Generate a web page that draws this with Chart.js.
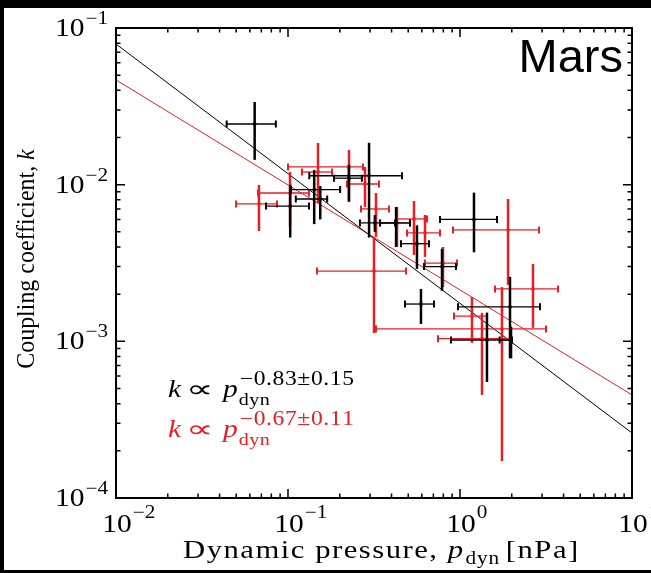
<!DOCTYPE html>
<html>
<head>
<meta charset="utf-8">
<script src="https://cdn.jsdelivr.net/npm/chart.js@4"></script>
<style>
  html, body { margin: 0; padding: 0; background: #fff; }
  canvas { display: block; }
</style>
</head>
<body>
<canvas id="chart" width="651" height="573"></canvas>
<script>
// fit lines (end points read at the plot edges)
const fitP = [0.01, 10];
const blackFitK = [0.079, 0.00026];
const redFitK = [0.0466, 0.000455];

// black points: p_dyn [nPa] with x range, k with y range
const blackP   = [0.064, 0.103, 0.142, 0.154, 0.296, 0.226, 0.425, 0.32, 0.562, 0.786, 1.206, 0.593, 1.953, 1.435, 1.98];
const blackPLo = [0.044, 0.0745, 0.104, 0.111, 0.133, 0.185, 0.343, 0.262, 0.454, 0.618, 0.765, 0.479, 0.974, 0.887, 1.7];
const blackPHi = [0.085, 0.1325, 0.201, 0.169, 0.46, 0.269, 0.512, 0.419, 0.66, 0.948, 1.641, 0.706, 2.918, 1.98, 2.006];
const blackK   = [0.0244, 0.0073, 0.0093, 0.0081, 0.0114, 0.011, 0.0057, 0.0057, 0.0042, 0.003, 0.006, 0.00173, 0.00166, 0.00102, 0.00102];
const blackKLo = [0.0144, 0.0046, 0.0056, 0.006, 0.0046, 0.0078, 0.004, 0.005, 0.0029, 0.0021, 0.0037, 0.00129, 0.00078, 0.00055, 0.00078];
const blackKHi = [0.0337, 0.01, 0.0124, 0.0098, 0.0185, 0.0134, 0.0072, 0.0064, 0.0055, 0.0039, 0.0089, 0.00216, 0.00258, 0.00152, 0.00124];

// red points
const redP   = [0.0678, 0.1027, 0.1494, 0.2263, 0.2803, 0.3248, 0.3162, 0.4302, 0.5401, 0.6259, 0.7965, 1.902, 2.657, 1.174, 1.754, 1.342];
const redPLo = [0.0499, 0.067, 0.1206, 0.1, 0.2203, 0.2657, 0.1475, 0.3426, 0.4302, 0.4918, 0.6259, 0.9107, 1.598, 0.9228, 0.3248, 0.745];
const redPHi = [0.0863, 0.1325, 0.1802, 0.2729, 0.3381, 0.3865, 0.4853, 0.512, 0.6428, 0.765, 0.9607, 2.88, 3.714, 1.435, 3.162, 1.98];
const redK   = [0.00753, 0.00885, 0.01205, 0.01297, 0.0101, 0.007, 0.00281, 0.00569, 0.00604, 0.00492, 0.00316, 0.00514, 0.00216, 0.00145, 0.0012, 0.00104];
const redKLo = [0.00506, 0.00537, 0.00764, 0.00775, 0.00721, 0.00464, 0.00113, 0.004, 0.00356, 0.00346, 0.00222, 0.00229, 0.00122, 0.000977, 0.000172, 0.000455];
const redKHi = [0.00996, 0.01205, 0.01845, 0.01665, 0.01297, 0.00885, 0.00464, 0.00721, 0.00787, 0.00641, 0.004, 0.0081, 0.00312, 0.00192, 0.00222, 0.00152];

const xDecades = [-2, -1, 0, 1];
const yDecades = [-4, -3, -2, -1];

const RED = 'rgb(232,30,36)';
const SERIF = '"Liberation Serif"';
const SX = 1.18; // serif text is stretched a bit to look like TeX

function pts(xs, ys) {
  return xs.map((x, i) => ({ x: x, y: ys[i] }));
}

// draws text (optionally letter spaced), returns advance
function put(ctx, s, x, y, size, italic, gap, sx) {
  gap = gap || 0;
  sx = sx || SX;
  ctx.font = (italic ? 'italic ' : '') + size + 'px ' + SERIF;
  ctx.textAlign = 'left';
  let cx = x;
  const chars = gap ? Array.from(s) : [s];
  chars.forEach(c => {
    ctx.save();
    ctx.translate(cx, y);
    ctx.scale(sx, 1);
    ctx.fillText(c, 0, 0);
    ctx.restore();
    cx += ctx.measureText(c).width * sx + gap;
  });
  return cx - x;
}
function width(ctx, s, size, italic, gap, sx) {
  ctx.font = (italic ? 'italic ' : '') + size + 'px ' + SERIF;
  return ctx.measureText(s).width * (sx || SX) + (gap || 0) * Array.from(s).length;
}

const errorBars = {
  id: 'errorBars',
  afterDatasetsDraw(chart) {
    const ctx = chart.ctx, xs = chart.scales.x, ys = chart.scales.y, a = chart.chartArea;
    const sets = [
      [redP, redPLo, redPHi, redK, redKLo, redKHi, RED],
      [blackP, blackPLo, blackPHi, blackK, blackKLo, blackKHi, '#000']
    ];
    ctx.save();
    ctx.beginPath();
    ctx.rect(a.left, a.top, a.right - a.left, a.bottom - a.top);
    ctx.clip();
    sets.forEach(([p, pl, ph, k, kl, kh, col]) => {
      ctx.strokeStyle = col;
      ctx.fillStyle = col;
      p.forEach((v, i) => {
        const x = xs.getPixelForValue(v), y = ys.getPixelForValue(k[i]);
        const x0 = xs.getPixelForValue(pl[i]), x1 = xs.getPixelForValue(ph[i]);
        const y0 = ys.getPixelForValue(kl[i]), y1 = ys.getPixelForValue(kh[i]);
        ctx.lineWidth = 1.3;
        ctx.beginPath();
        ctx.moveTo(x0, y); ctx.lineTo(x1, y);
        ctx.stroke();
        ctx.lineWidth = 2;
        ctx.beginPath();
        ctx.moveTo(x0, y - 3.5); ctx.lineTo(x0, y + 3.5);
        ctx.moveTo(x1, y - 3.5); ctx.lineTo(x1, y + 3.5);
        ctx.stroke();
        ctx.lineWidth = 2.5;
        ctx.beginPath();
        ctx.moveTo(x, y0); ctx.lineTo(x, y1);
        ctx.stroke();
        ctx.fillRect(x - 1.5, y - 1.5, 3, 3);
      });
    });
    ctx.restore();
  }
};

const decor = {
  id: 'decor',
  beforeDraw(chart) {
    const ctx = chart.ctx;
    ctx.save();
    ctx.fillStyle = '#fff';
    ctx.fillRect(0, 0, chart.width, chart.height);
    ctx.restore();
  },
  afterDraw(chart) {
    const ctx = chart.ctx, xs = chart.scales.x, ys = chart.scales.y, a = chart.chartArea;
    ctx.save();
    // outer dark frame of the figure
    ctx.fillStyle = '#000';
    ctx.fillRect(0, 0, chart.width, 8);
    ctx.fillRect(0, 0, 4, chart.height);
    ctx.fillRect(0, 570, chart.width, 3);

    // box
    ctx.strokeStyle = '#000';
    ctx.lineWidth = 2;
    ctx.strokeRect(a.left, a.top, a.right - a.left, a.bottom - a.top);

    // ticks on all four sides, pointing in
    ctx.lineWidth = 1.5;
    ctx.beginPath();
    xDecades.forEach(d => {
      for (let m = 1; m <= 9; m++) {
        const v = m * Math.pow(10, d);
        if (v > 10.0001) break;
        const x = xs.getPixelForValue(v);
        const len = m === 1 ? 9 : 4.5;
        ctx.moveTo(x, a.bottom); ctx.lineTo(x, a.bottom - len);
        ctx.moveTo(x, a.top); ctx.lineTo(x, a.top + len);
      }
    });
    yDecades.forEach(d => {
      for (let m = 1; m <= 9; m++) {
        const v = m * Math.pow(10, d);
        if (v > 0.10001) break;
        const y = ys.getPixelForValue(v);
        const len = m === 1 ? 9 : 4.5;
        ctx.moveTo(a.left, y); ctx.lineTo(a.left + len, y);
        ctx.moveTo(a.right, y); ctx.lineTo(a.right - len, y);
      }
    });
    ctx.stroke();

    // tick labels 10^n
    ctx.fillStyle = '#000';
    ctx.textBaseline = 'alphabetic';
    xDecades.forEach(d => {
      const x = xs.getPixelForValue(Math.pow(10, d));
      const e = d < 0 ? '\u2212' + (-d) : String(d);
      const wb = width(ctx, '10', 25, false);
      const bx = x - wb / 2 + 1;
      put(ctx, '10', bx, 532, 25, false);
      put(ctx, e, bx + wb + 1, 518, 18, false);
    });
    yDecades.forEach(d => {
      const y = ys.getPixelForValue(Math.pow(10, d));
      const e = '\u2212' + (-d);
      const we = width(ctx, e, 18, false);
      const wb = width(ctx, '10', 25, false);
      const ex = 108 - we;
      put(ctx, e, ex, y - 4, 18, false);
      put(ctx, '10', ex - wb - 1, y + 8, 25, false);
    });

    // axis titles
    let x = 183;
    x += put(ctx, 'Dynamic pressure, ', x, 558, 26, false, 1.5);
    x += put(ctx, 'p', x, 558, 26, true, 1.5);
    x += put(ctx, 'dyn', x + 1, 564, 18, false, 0.8) + 7;
    put(ctx, '[nPa]', x, 558, 26, false, 1.5);

    ctx.save();
    ctx.translate(34, 259);
    ctx.rotate(-Math.PI / 2);
    const t1 = 'Coupling coefficient, ';
    const w1 = width(ctx, t1, 26, false, 0, 0.92), w2 = width(ctx, 'k', 26, true, 0, 0.92);
    let ty = -(w1 + w2) / 2;
    ty += put(ctx, t1, ty, 0, 26, false, 0, 0.92);
    put(ctx, 'k', ty, 0, 26, true, 0, 0.92);
    ctx.restore();

    // fit labels
    function law(y, col, ex) {
      ctx.fillStyle = col;
      put(ctx, 'k', 168, y, 25, true);
      put(ctx, '\u221D', 186, y, 24, false, 0, 1.6);
      const pw = put(ctx, 'p', 223, y, 25, true);
      put(ctx, 'dyn', 223 + pw + 1, y + 8, 17, false, 0.5);
      put(ctx, ex, 223 + pw + 2, y - 12, 20, false, 0.6);
    }
    law(397, '#000', '\u22120.83\u00B10.15');
    law(437, RED, '\u22120.67\u00B10.11');

    // planet name
    ctx.fillStyle = '#000';
    ctx.font = '47px "Liberation Sans"';
    ctx.textAlign = 'right';
    ctx.fillText('Mars', 623, 72);
    ctx.restore();
  }
};

new Chart(document.getElementById('chart'), {
  type: 'scatter',
  data: {
    datasets: [
      {
        type: 'line',
        label: 'black fit',
        data: pts(fitP, blackFitK),
        borderColor: '#000',
        borderWidth: 1,
        pointRadius: 0
      },
      {
        type: 'line',
        label: 'red fit',
        data: pts(fitP, redFitK),
        borderColor: RED,
        borderWidth: 1,
        pointRadius: 0
      },
      {
        label: 'black',
        data: pts(blackP, blackK),
        backgroundColor: '#000',
        borderColor: '#000',
        pointRadius: 0
      },
      {
        label: 'red',
        data: pts(redP, redK),
        backgroundColor: RED,
        borderColor: RED,
        pointRadius: 0
      }
    ]
  },
  options: {
    responsive: false,
    animation: false,
    devicePixelRatio: 1,
    layout: { padding: { left: 116, top: 28, right: 19, bottom: 75 } },
    plugins: { legend: { display: false }, tooltip: { enabled: false } },
    scales: {
      x: { type: 'logarithmic', min: 0.01, max: 10, display: false },
      y: { type: 'logarithmic', min: 0.0001, max: 0.1, display: false }
    }
  },
  plugins: [decor, errorBars]
});
</script>
</body>
</html>
